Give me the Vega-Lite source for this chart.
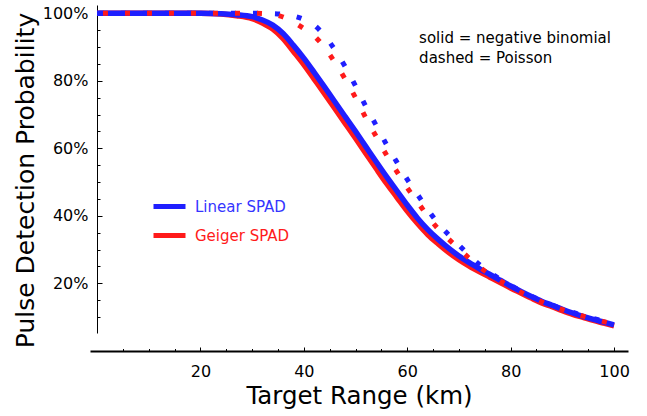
{
  "$schema": "https://vega.github.io/schema/vega-lite/v6.json",
  "width": 538,
  "height": 328,
  "autosize": "none",
  "padding": {"left": 90, "top": 5, "right": 19, "bottom": 83},
  "background": "white",
  "config": {
    "view": {"stroke": null},
    "font": "DejaVu Sans",
    "axis": {"grid": false, "domainColor": "black", "tickColor": "black", "labelColor": "black", "titleColor": "black", "labelFont": "DejaVu Sans", "titleFont": "DejaVu Sans", "titleFontWeight": "normal", "labelOverlap": false, "labelFlush": false, "tickCount": 100}
  },
  "data": {"values": [
    {"range":0,"prob":100,"detector":"Linear SPAD","model":"negative binomial"},
    {"range":10,"prob":100,"detector":"Linear SPAD","model":"negative binomial"},
    {"range":20,"prob":100,"detector":"Linear SPAD","model":"negative binomial"},
    {"range":24,"prob":99.9,"detector":"Linear SPAD","model":"negative binomial"},
    {"range":27,"prob":99.6,"detector":"Linear SPAD","model":"negative binomial"},
    {"range":30,"prob":99,"detector":"Linear SPAD","model":"negative binomial"},
    {"range":32,"prob":98,"detector":"Linear SPAD","model":"negative binomial"},
    {"range":34,"prob":96.5,"detector":"Linear SPAD","model":"negative binomial"},
    {"range":36,"prob":94,"detector":"Linear SPAD","model":"negative binomial"},
    {"range":38,"prob":90.5,"detector":"Linear SPAD","model":"negative binomial"},
    {"range":40,"prob":86.7,"detector":"Linear SPAD","model":"negative binomial"},
    {"range":42,"prob":82.5,"detector":"Linear SPAD","model":"negative binomial"},
    {"range":44,"prob":78.2,"detector":"Linear SPAD","model":"negative binomial"},
    {"range":46,"prob":73.8,"detector":"Linear SPAD","model":"negative binomial"},
    {"range":48,"prob":69.4,"detector":"Linear SPAD","model":"negative binomial"},
    {"range":50,"prob":65,"detector":"Linear SPAD","model":"negative binomial"},
    {"range":52,"prob":60.5,"detector":"Linear SPAD","model":"negative binomial"},
    {"range":54,"prob":56,"detector":"Linear SPAD","model":"negative binomial"},
    {"range":56,"prob":51.6,"detector":"Linear SPAD","model":"negative binomial"},
    {"range":58,"prob":47.4,"detector":"Linear SPAD","model":"negative binomial"},
    {"range":60,"prob":43.2,"detector":"Linear SPAD","model":"negative binomial"},
    {"range":62,"prob":39.3,"detector":"Linear SPAD","model":"negative binomial"},
    {"range":64,"prob":35.9,"detector":"Linear SPAD","model":"negative binomial"},
    {"range":66,"prob":33.0,"detector":"Linear SPAD","model":"negative binomial"},
    {"range":68,"prob":30.4,"detector":"Linear SPAD","model":"negative binomial"},
    {"range":70,"prob":28.1,"detector":"Linear SPAD","model":"negative binomial"},
    {"range":72,"prob":26.1,"detector":"Linear SPAD","model":"negative binomial"},
    {"range":74,"prob":24.3,"detector":"Linear SPAD","model":"negative binomial"},
    {"range":76,"prob":22.6,"detector":"Linear SPAD","model":"negative binomial"},
    {"range":78,"prob":20.9,"detector":"Linear SPAD","model":"negative binomial"},
    {"range":80,"prob":19.2,"detector":"Linear SPAD","model":"negative binomial"},
    {"range":82,"prob":17.6,"detector":"Linear SPAD","model":"negative binomial"},
    {"range":84,"prob":16.1,"detector":"Linear SPAD","model":"negative binomial"},
    {"range":86,"prob":14.7,"detector":"Linear SPAD","model":"negative binomial"},
    {"range":88,"prob":13.5,"detector":"Linear SPAD","model":"negative binomial"},
    {"range":90,"prob":12.3,"detector":"Linear SPAD","model":"negative binomial"},
    {"range":92,"prob":11.2,"detector":"Linear SPAD","model":"negative binomial"},
    {"range":94,"prob":10.2,"detector":"Linear SPAD","model":"negative binomial"},
    {"range":96,"prob":9.3,"detector":"Linear SPAD","model":"negative binomial"},
    {"range":98,"prob":8.5,"detector":"Linear SPAD","model":"negative binomial"},
    {"range":100,"prob":7.7,"detector":"Linear SPAD","model":"negative binomial"},

    {"range":0,"prob":100,"detector":"Geiger SPAD","model":"negative binomial"},
    {"range":10,"prob":100,"detector":"Geiger SPAD","model":"negative binomial"},
    {"range":20,"prob":100,"detector":"Geiger SPAD","model":"negative binomial"},
    {"range":24,"prob":99.8,"detector":"Geiger SPAD","model":"negative binomial"},
    {"range":27,"prob":99.3,"detector":"Geiger SPAD","model":"negative binomial"},
    {"range":30,"prob":98.4,"detector":"Geiger SPAD","model":"negative binomial"},
    {"range":32,"prob":97.1,"detector":"Geiger SPAD","model":"negative binomial"},
    {"range":34,"prob":95.3,"detector":"Geiger SPAD","model":"negative binomial"},
    {"range":36,"prob":92.5,"detector":"Geiger SPAD","model":"negative binomial"},
    {"range":38,"prob":88.7,"detector":"Geiger SPAD","model":"negative binomial"},
    {"range":40,"prob":84.8,"detector":"Geiger SPAD","model":"negative binomial"},
    {"range":42,"prob":80.5,"detector":"Geiger SPAD","model":"negative binomial"},
    {"range":44,"prob":76.2,"detector":"Geiger SPAD","model":"negative binomial"},
    {"range":46,"prob":71.8,"detector":"Geiger SPAD","model":"negative binomial"},
    {"range":48,"prob":67.4,"detector":"Geiger SPAD","model":"negative binomial"},
    {"range":50,"prob":63,"detector":"Geiger SPAD","model":"negative binomial"},
    {"range":52,"prob":58.5,"detector":"Geiger SPAD","model":"negative binomial"},
    {"range":54,"prob":54,"detector":"Geiger SPAD","model":"negative binomial"},
    {"range":56,"prob":49.6,"detector":"Geiger SPAD","model":"negative binomial"},
    {"range":58,"prob":45.5,"detector":"Geiger SPAD","model":"negative binomial"},
    {"range":60,"prob":41.4,"detector":"Geiger SPAD","model":"negative binomial"},
    {"range":62,"prob":37.7,"detector":"Geiger SPAD","model":"negative binomial"},
    {"range":64,"prob":34.4,"detector":"Geiger SPAD","model":"negative binomial"},
    {"range":66,"prob":31.7,"detector":"Geiger SPAD","model":"negative binomial"},
    {"range":68,"prob":29.2,"detector":"Geiger SPAD","model":"negative binomial"},
    {"range":70,"prob":27.0,"detector":"Geiger SPAD","model":"negative binomial"},
    {"range":72,"prob":25.1,"detector":"Geiger SPAD","model":"negative binomial"},
    {"range":74,"prob":23.4,"detector":"Geiger SPAD","model":"negative binomial"},
    {"range":76,"prob":21.8,"detector":"Geiger SPAD","model":"negative binomial"},
    {"range":78,"prob":20.2,"detector":"Geiger SPAD","model":"negative binomial"},
    {"range":80,"prob":18.6,"detector":"Geiger SPAD","model":"negative binomial"},
    {"range":82,"prob":17.1,"detector":"Geiger SPAD","model":"negative binomial"},
    {"range":84,"prob":15.6,"detector":"Geiger SPAD","model":"negative binomial"},
    {"range":86,"prob":14.2,"detector":"Geiger SPAD","model":"negative binomial"},
    {"range":88,"prob":13.1,"detector":"Geiger SPAD","model":"negative binomial"},
    {"range":90,"prob":11.9,"detector":"Geiger SPAD","model":"negative binomial"},
    {"range":92,"prob":10.8,"detector":"Geiger SPAD","model":"negative binomial"},
    {"range":94,"prob":9.9,"detector":"Geiger SPAD","model":"negative binomial"},
    {"range":96,"prob":9.0,"detector":"Geiger SPAD","model":"negative binomial"},
    {"range":98,"prob":8.2,"detector":"Geiger SPAD","model":"negative binomial"},
    {"range":100,"prob":7.4,"detector":"Geiger SPAD","model":"negative binomial"},

    {"range":0,"prob":100,"detector":"Linear SPAD","model":"Poisson"},
    {"range":10,"prob":100,"detector":"Linear SPAD","model":"Poisson"},
    {"range":20,"prob":100,"detector":"Linear SPAD","model":"Poisson"},
    {"range":30,"prob":100,"detector":"Linear SPAD","model":"Poisson"},
    {"range":34,"prob":99.9,"detector":"Linear SPAD","model":"Poisson"},
    {"range":36,"prob":99.7,"detector":"Linear SPAD","model":"Poisson"},
    {"range":38,"prob":99.2,"detector":"Linear SPAD","model":"Poisson"},
    {"range":40,"prob":98.2,"detector":"Linear SPAD","model":"Poisson"},
    {"range":42,"prob":96.5,"detector":"Linear SPAD","model":"Poisson"},
    {"range":44,"prob":93.4,"detector":"Linear SPAD","model":"Poisson"},
    {"range":46,"prob":89.2,"detector":"Linear SPAD","model":"Poisson"},
    {"range":48,"prob":84.2,"detector":"Linear SPAD","model":"Poisson"},
    {"range":50,"prob":78.5,"detector":"Linear SPAD","model":"Poisson"},
    {"range":52,"prob":72.4,"detector":"Linear SPAD","model":"Poisson"},
    {"range":54,"prob":66.8,"detector":"Linear SPAD","model":"Poisson"},
    {"range":56,"prob":61.1,"detector":"Linear SPAD","model":"Poisson"},
    {"range":58,"prob":55.9,"detector":"Linear SPAD","model":"Poisson"},
    {"range":60,"prob":50.8,"detector":"Linear SPAD","model":"Poisson"},
    {"range":62,"prob":46.3,"detector":"Linear SPAD","model":"Poisson"},
    {"range":64,"prob":41.8,"detector":"Linear SPAD","model":"Poisson"},
    {"range":66,"prob":37.7,"detector":"Linear SPAD","model":"Poisson"},
    {"range":68,"prob":34.4,"detector":"Linear SPAD","model":"Poisson"},
    {"range":70,"prob":31.3,"detector":"Linear SPAD","model":"Poisson"},
    {"range":72,"prob":28.3,"detector":"Linear SPAD","model":"Poisson"},
    {"range":74,"prob":25.5,"detector":"Linear SPAD","model":"Poisson"},
    {"range":76,"prob":23.2,"detector":"Linear SPAD","model":"Poisson"},
    {"range":78,"prob":21.2,"detector":"Linear SPAD","model":"Poisson"},
    {"range":80,"prob":19.4,"detector":"Linear SPAD","model":"Poisson"},
    {"range":82,"prob":17.7,"detector":"Linear SPAD","model":"Poisson"},
    {"range":84,"prob":16.2,"detector":"Linear SPAD","model":"Poisson"},
    {"range":86,"prob":14.8,"detector":"Linear SPAD","model":"Poisson"},
    {"range":88,"prob":13.6,"detector":"Linear SPAD","model":"Poisson"},
    {"range":90,"prob":12.4,"detector":"Linear SPAD","model":"Poisson"},
    {"range":92,"prob":11.4,"detector":"Linear SPAD","model":"Poisson"},
    {"range":94,"prob":10.4,"detector":"Linear SPAD","model":"Poisson"},
    {"range":96,"prob":9.6,"detector":"Linear SPAD","model":"Poisson"},
    {"range":98,"prob":8.8,"detector":"Linear SPAD","model":"Poisson"},
    {"range":100,"prob":8.0,"detector":"Linear SPAD","model":"Poisson"},

    {"range":0,"prob":100,"detector":"Geiger SPAD","model":"Poisson"},
    {"range":10,"prob":100,"detector":"Geiger SPAD","model":"Poisson"},
    {"range":20,"prob":100,"detector":"Geiger SPAD","model":"Poisson"},
    {"range":30,"prob":100,"detector":"Geiger SPAD","model":"Poisson"},
    {"range":34,"prob":99.7,"detector":"Geiger SPAD","model":"Poisson"},
    {"range":36,"prob":98.9,"detector":"Geiger SPAD","model":"Poisson"},
    {"range":38,"prob":97.4,"detector":"Geiger SPAD","model":"Poisson"},
    {"range":40,"prob":95.5,"detector":"Geiger SPAD","model":"Poisson"},
    {"range":42,"prob":93.3,"detector":"Geiger SPAD","model":"Poisson"},
    {"range":44,"prob":89.9,"detector":"Geiger SPAD","model":"Poisson"},
    {"range":46,"prob":85.5,"detector":"Geiger SPAD","model":"Poisson"},
    {"range":48,"prob":80.5,"detector":"Geiger SPAD","model":"Poisson"},
    {"range":50,"prob":75.0,"detector":"Geiger SPAD","model":"Poisson"},
    {"range":52,"prob":69.0,"detector":"Geiger SPAD","model":"Poisson"},
    {"range":54,"prob":63.5,"detector":"Geiger SPAD","model":"Poisson"},
    {"range":56,"prob":58.0,"detector":"Geiger SPAD","model":"Poisson"},
    {"range":58,"prob":53.1,"detector":"Geiger SPAD","model":"Poisson"},
    {"range":60,"prob":48.3,"detector":"Geiger SPAD","model":"Poisson"},
    {"range":62,"prob":44.1,"detector":"Geiger SPAD","model":"Poisson"},
    {"range":64,"prob":39.8,"detector":"Geiger SPAD","model":"Poisson"},
    {"range":66,"prob":36.1,"detector":"Geiger SPAD","model":"Poisson"},
    {"range":68,"prob":33.1,"detector":"Geiger SPAD","model":"Poisson"},
    {"range":70,"prob":30.2,"detector":"Geiger SPAD","model":"Poisson"},
    {"range":72,"prob":27.4,"detector":"Geiger SPAD","model":"Poisson"},
    {"range":74,"prob":24.8,"detector":"Geiger SPAD","model":"Poisson"},
    {"range":76,"prob":22.6,"detector":"Geiger SPAD","model":"Poisson"},
    {"range":78,"prob":20.7,"detector":"Geiger SPAD","model":"Poisson"},
    {"range":80,"prob":19.0,"detector":"Geiger SPAD","model":"Poisson"},
    {"range":82,"prob":17.35,"detector":"Geiger SPAD","model":"Poisson"},
    {"range":84,"prob":15.9,"detector":"Geiger SPAD","model":"Poisson"},
    {"range":86,"prob":14.5,"detector":"Geiger SPAD","model":"Poisson"},
    {"range":88,"prob":13.35,"detector":"Geiger SPAD","model":"Poisson"},
    {"range":90,"prob":12.2,"detector":"Geiger SPAD","model":"Poisson"},
    {"range":92,"prob":11.25,"detector":"Geiger SPAD","model":"Poisson"},
    {"range":94,"prob":10.25,"detector":"Geiger SPAD","model":"Poisson"},
    {"range":96,"prob":9.45,"detector":"Geiger SPAD","model":"Poisson"},
    {"range":98,"prob":8.65,"detector":"Geiger SPAD","model":"Poisson"},
    {"range":100,"prob":7.9,"detector":"Geiger SPAD","model":"Poisson"}
  ]},
  "layer": [
    {
      "transform": [{"filter": "datum.model == 'negative binomial' && datum.detector == 'Geiger SPAD'"}],
      "mark": {"type": "line", "strokeWidth": 5.5, "interpolate": "monotone", "strokeCap": "butt"},
      "encoding": {
        "x": {"field": "range", "type": "quantitative",
          "scale": {"domain": [-1.35, 102.7], "nice": false, "zero": false},
          "axis": {"title": "Target Range (km)", "values": [5,10,15,20,25,30,35,40,45,50,55,60,65,70,75,80,85,90,95,100],
            "tickCount": 100,
            "labelExpr": "datum.value % 20 == 0 ? '' + datum.value : ''",
            "tickSize": {"condition": {"test": "datum.value % 20 == 0", "value": -4}, "value": -2.5},
            "offset": 18, "domainWidth": 2, "tickWidth": 1, "labelFontSize": 16, "labelPadding": 16, "titleFontSize": 24.5, "titlePadding": 4}},
        "y": {"field": "prob", "type": "quantitative",
          "scale": {"domain": [5.27, 102.46], "nice": false, "zero": false},
          "axis": {"title": "Pulse Detection Probability", "values": [10,15,20,25,30,35,40,45,50,55,60,65,70,75,80,85,90,95,100],
            "tickCount": 100,
            "labelExpr": "datum.value % 20 == 0 ? datum.value + '%' : ''",
            "tickSize": {"condition": {"test": "datum.value % 20 == 0", "value": -5}, "value": -3},
            "offset": -7, "domainWidth": 1, "tickWidth": 1, "labelFontSize": 16, "labelPadding": 14, "titleFontSize": 25, "titlePadding": 4, "titleY": 175}},
        "color": {"field": "detector", "type": "nominal",
          "scale": {"domain": ["Linear SPAD", "Geiger SPAD"], "range": ["#1f1fff", "#ff1a1a"]},
          "legend": {"title": null, "orient": "none", "legendX": 61, "legendY": 183, "padding": 0,
            "symbolType": "stroke", "symbolStrokeWidth": 5, "symbolSize": 1024, "rowPadding": 0,
            "labelFontSize": 15, "labelOffset": 7, "labelFont": "DejaVu Sans",
            "encode": {"labels": {"update": {"fill": {"signal": "datum.label === 'Linear SPAD' ? '#3535ff' : '#ff1a1a'"}}}}}}
      }
    },
    {
      "transform": [{"filter": "datum.model == 'negative binomial' && datum.detector == 'Linear SPAD'"}],
      "mark": {"type": "line", "strokeWidth": 5.5, "interpolate": "monotone", "strokeCap": "butt"},
      "encoding": {
        "x": {"field": "range", "type": "quantitative"},
        "y": {"field": "prob", "type": "quantitative"},
        "color": {"field": "detector", "type": "nominal"}
      }
    },
    {
      "transform": [{"filter": "datum.model == 'Poisson' && datum.detector == 'Linear SPAD'"}],
      "mark": {"type": "line", "strokeWidth": 5, "interpolate": "monotone", "strokeCap": "butt", "color": "#1f1fff", "strokeDash": [5, 17], "strokeDashOffset": 20},
      "encoding": {
        "x": {"field": "range", "type": "quantitative"},
        "y": {"field": "prob", "type": "quantitative"}
      }
    },
    {
      "transform": [{"filter": "datum.model == 'Poisson' && datum.detector == 'Geiger SPAD'"}],
      "mark": {"type": "line", "strokeWidth": 5, "interpolate": "monotone", "strokeCap": "butt", "color": "#ff1a1a", "strokeDash": [5, 17], "strokeDashOffset": 16},
      "encoding": {
        "x": {"field": "range", "type": "quantitative"},
        "y": {"field": "prob", "type": "quantitative"}
      }
    },
    {
      "data": {"values": [{"note": "legend"}]},
      "mark": {"type": "text", "align": "left", "baseline": "alphabetic", "fontSize": 15, "lineHeight": 20, "font": "DejaVu Sans", "color": "black"},
      "encoding": {
        "x": {"datum": 62.3},
        "y": {"datum": 91.1},
        "text": {"value": ["solid = negative binomial", "dashed = Poisson"]}
      }
    }
  ]
}
